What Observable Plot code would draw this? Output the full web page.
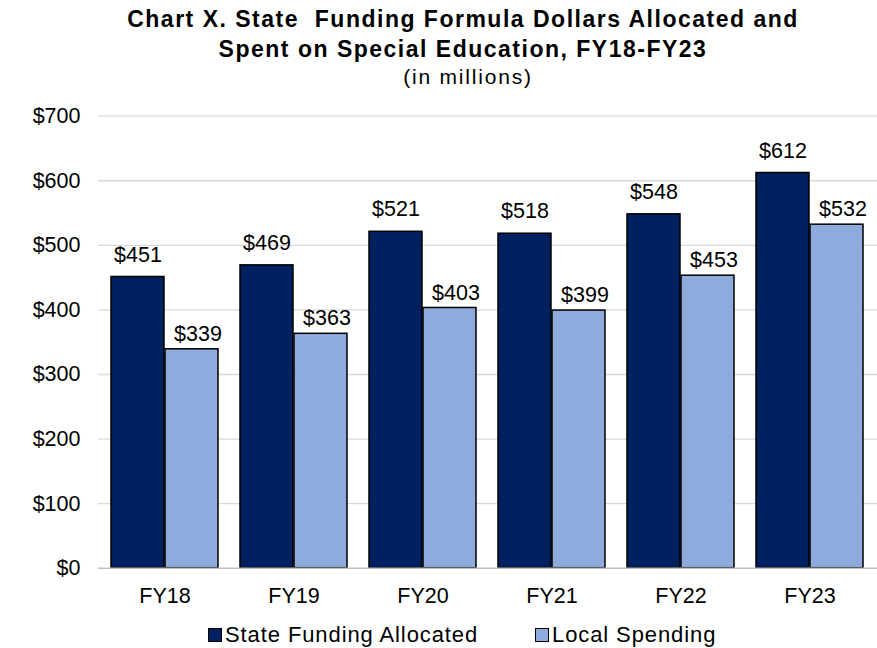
<!DOCTYPE html>
<html>
<head>
<meta charset="utf-8">
<script src="https://cdn.jsdelivr.net/npm/d3@7"></script>
<script src="https://cdn.jsdelivr.net/npm/@observablehq/plot@0.6"></script>
<style>
  html, body { margin: 0; padding: 0; background: #fff; overflow: hidden; }
  #wrap { position: relative; width: 877px; height: 648px; font-family: "Liberation Sans", Arial, sans-serif; color: #000; }
  .t { position: absolute; white-space: nowrap; line-height: 1; transform: translateX(-50%); }
  #t1, #t2 { font-weight: bold; font-size: 23px; letter-spacing: 1.5px; }
  #t1 { left: 463px; top: 7.5px; }
  #t2 { left: 463px; top: 37.5px; }
  #sub { left: 468px; top: 66px; font-size: 21px; letter-spacing: 1.8px; }
  #chart { position: absolute; left: 0; top: 95px; }
  .leg { position: absolute; top: 623px; height: 24px; display: flex; align-items: center; font-size: 22px; letter-spacing: 0.9px; white-space: nowrap; line-height: 1; }
  .sw { width: 12px; height: 12px; border: 1px solid #000; margin-right: 3px; flex: none; }
</style>
</head>
<body>
<div id="wrap">
  <div class="t" id="t1">Chart X. State&nbsp; Funding Formula Dollars Allocated and</div>
  <div class="t" id="t2">Spent on Special Education, FY18-FY23</div>
  <div class="t" id="sub">(in millions)</div>
  <div id="chart"></div>
  <div class="leg" id="leg1" style="left:208px"></div>
  <div class="leg" id="leg2" style="left:535px"></div>
</div>
<script>
const years = ["FY18", "FY19", "FY20", "FY21", "FY22", "FY23"];
const stateAllocated = [451, 469, 521, 518, 548, 612];
const localSpending = [339, 363, 403, 399, 453, 532];
const seriesNames = ["State Funding Allocated", "Local Spending"];
const seriesColors = ["#002060", "#8FAADC"];
const yTicks = [0, 100, 200, 300, 400, 500, 600, 700];

const stateRows = years.map((year, i) => ({year, value: stateAllocated[i]}));
const localRows = years.map((year, i) => ({year, value: localSpending[i]}));

const W = 877, H = 520, ML = 98, MR = 0, MT = 20.7, MB = 47.3;
const pad = 0.168;
const step = (W - ML - MR) / years.length;
const half = step * (1 - pad) / 2;
const fmt = d => "$" + d;

const chart = Plot.plot({
  width: W,
  height: H,
  marginLeft: ML,
  marginRight: MR,
  marginTop: MT,
  marginBottom: MB,
  style: {fontFamily: "'Liberation Sans', Arial, sans-serif", fontSize: "21.5px", color: "#000", background: "transparent"},
  x: {domain: years, paddingInner: pad, paddingOuter: pad / 2, label: null},
  y: {domain: [0, 700], label: null},
  marks: [
    Plot.ruleY(yTicks.filter(d => d > 0), {stroke: "#d9d9d9", strokeWidth: 1.3}),
    Plot.rectY(stateRows, {x: "year", y: "value", fill: seriesColors[0], stroke: "#000", strokeWidth: 1.5, insetRight: half, insetLeft: 0}),
    Plot.rectY(localRows, {x: "year", y: "value", fill: seriesColors[1], stroke: "#000", strokeWidth: 1.5, insetLeft: half, insetRight: 0}),
    Plot.ruleY([0], {stroke: "#bfbfbf", strokeWidth: 1.6}),
    Plot.text(stateRows, {x: "year", y: "value", text: d => fmt(d.value), dx: -half / 2, dy: -22.2, lineAnchor: "middle", fill: "#000", fontSize: 21.5}),
    Plot.text(localRows, {x: "year", y: "value", text: d => fmt(d.value), dx: half / 2 + 6, dy: -15.2, lineAnchor: "middle", fill: "#000", fontSize: 21.5}),
    Plot.axisY({ticks: yTicks, tickFormat: fmt, tickSize: 0, tickPadding: 18, label: null, fontSize: 21.5}),
    Plot.axisX({tickSize: 0, tickPadding: 19.3, label: null, fontSize: 21.5})
  ]
});
document.getElementById("chart").appendChild(chart);

[["leg1", 0], ["leg2", 1]].forEach(([id, i]) => {
  const el = document.getElementById(id);
  const sw = document.createElement("div");
  sw.className = "sw";
  sw.style.background = seriesColors[i];
  const tx = document.createElement("span");
  tx.textContent = seriesNames[i];
  el.appendChild(sw);
  el.appendChild(tx);
});
</script>
</body>
</html>
